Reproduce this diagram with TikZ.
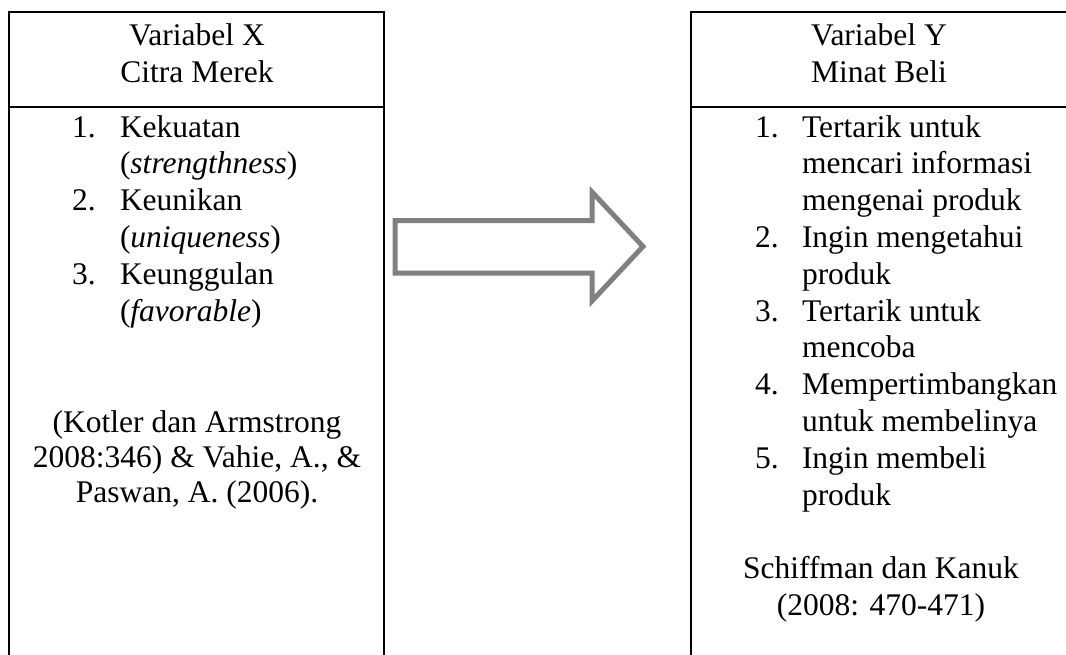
\documentclass[tikz,border=0pt]{standalone}
\usepackage{fontspec}
\setmainfont{Liberation Serif}
\begin{document}
\begin{tikzpicture}[x=1pt,y=-1pt,
  txt/.style={inner sep=0pt, outer sep=0pt, font=\fontsize{31.5}{36.8}\selectfont},
  lt/.style={txt, anchor=base west},
  ct/.style={txt, anchor=base},
  boxline/.style={draw=black, line width=2.2pt},
  bigarrow/.style={draw=black!50, line width=5pt, line join=miter, fill=white}]
\useasboundingbox (0,0) rectangle (1066,654);
\clip (0,0) rectangle (1066,654);
% left box
\draw[boxline] (9.3,700) -- (9.3,12) -- (384,12) -- (384,700);
\draw[boxline] (9.3,107) -- (384,107);
% right box
\draw[boxline] (691.3,700) -- (691.3,12) -- (1067.5,12) -- (1067.5,700);
\draw[boxline] (691.3,107) -- (1067.5,107);
% block arrow
\draw[bigarrow] (395,220.5) -- (592,220.5) -- (592,192) -- (643,246.5)
  -- (592,301) -- (592,273) -- (395,273) -- cycle;
% left texts
\node[ct] (lh1) at (197,45) {Variabel X};
\node[ct] (lh2) at (197,82) {Citra Merek};
\node[lt] (ln1) at (72,137) {1.};
\node[lt] (li1) at (120,137) {Kekuatan};
\node[lt] (li1b) at (120,173.8) {(\textit{strengthness})};
\node[lt] (ln2) at (72,210.6) {2.};
\node[lt] (li2) at (120,210.6) {Keunikan};
\node[lt] (li2b) at (120,247.4) {(\textit{uniqueness})};
\node[lt] (ln3) at (72,284.2) {3.};
\node[lt] (li3) at (120,284.2) {Keunggulan};
\node[lt] (li3b) at (120,321) {(\textit{favorable})};
\node[ct] (lc1) at (197,432) {(Kotler dan Armstrong};
\node[ct] (lc2) at (197,467) {2008:346) \& Vahie, A., \&};
\node[ct] (lc3) at (197,502.5) {Paswan, A. (2006).};
% right texts
\node[ct] (rh1) at (879,45) {Variabel Y};
\node[ct] (rh2) at (879,82) {Minat Beli};
\node[lt] (rn1) at (755,137) {1.};
\node[lt] (ri1) at (802,137) {Tertarik untuk};
\node[lt] (ri1b) at (802,173.8) {mencari informasi};
\node[lt] (ri1c) at (802,210.6) {mengenai produk};
\node[lt] (rn2) at (755,247.4) {2.};
\node[lt] (ri2) at (802,247.4) {Ingin mengetahui};
\node[lt] (ri2b) at (802,284.2) {produk};
\node[lt] (rn3) at (755,321) {3.};
\node[lt] (ri3) at (802,321) {Tertarik untuk};
\node[lt] (ri3b) at (802,357.8) {mencoba};
\node[lt] (rn4) at (755,394.6) {4.};
\node[lt] (ri4) at (802,394.6) {Mempertimbangkan};
\node[lt] (ri4b) at (802,431.4) {untuk membelinya};
\node[lt] (rn5) at (755,468.2) {5.};
\node[lt] (ri5) at (802,468.2) {Ingin membeli};
\node[lt] (ri5b) at (802,505) {produk};
\node[ct] (rc1) at (881,578) {Schiffman dan Kanuk};
\node[ct] (rc2) at (881,615) {(2008: 470-471)};
\end{tikzpicture}
\end{document}
